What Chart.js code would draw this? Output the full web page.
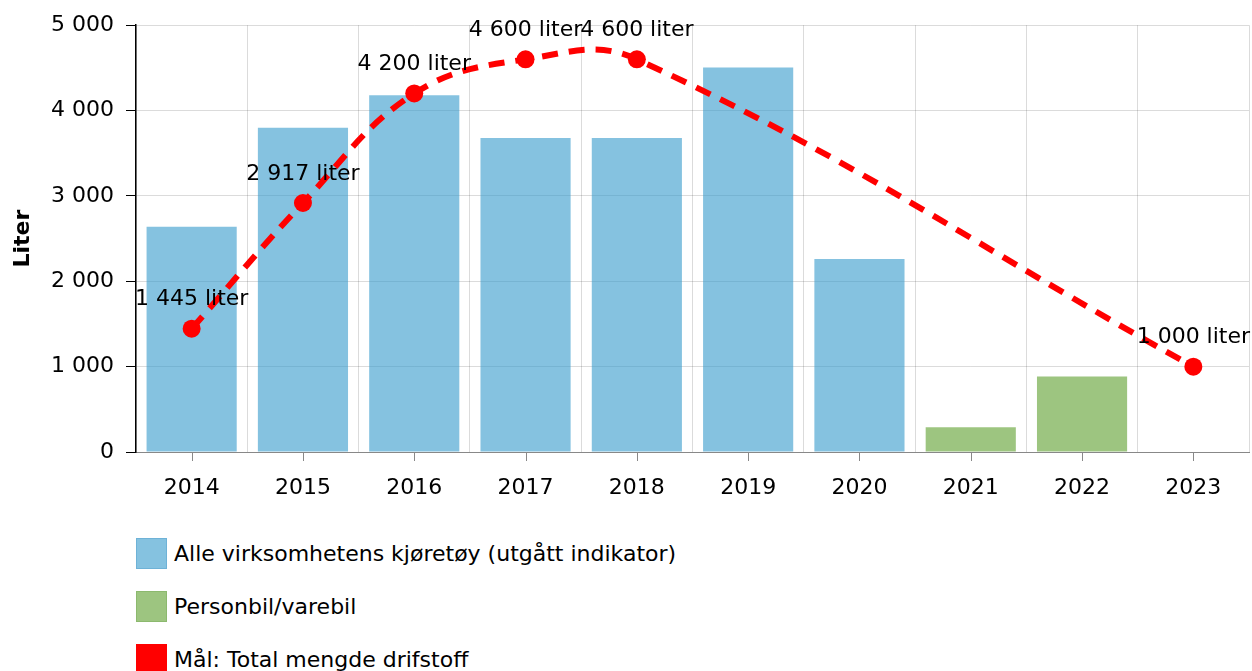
<!DOCTYPE html>
<html>
<head>
<meta charset="utf-8">
<script src="https://cdn.jsdelivr.net/npm/chart.js@4.4.1/dist/chart.umd.min.js"></script>
<style>
    body { margin: 0; background: #fff; font-family: "DejaVu Sans", sans-serif; }
    #wrap { position: relative; width: 1252px; height: 510px; }
    #legend { position: absolute; left: 136px; top: 538px; }
    .item { display: flex; align-items: center; height: 31px; margin-bottom: 22px; font-size: 22px; color: #000; }
    .box { width: 31px; height: 31px; margin-right: 7px; box-sizing: border-box; }
</style>
</head>
<body>
<div id="wrap"><canvas id="chart" width="1252" height="510"></canvas></div>
<div id="legend"></div>
<script>
const years = ['2014', '2015', '2016', '2017', '2018', '2019', '2020', '2021', '2022', '2023'];
const alleKjoretoy = [2640, 3800, 4180, 3680, 3680, 4505, 2260, null, null, null];
const personbil = [null, null, null, null, null, null, null, 290, 885, null];
const maal = [1445, 2917, 4200, 4600, 4600, null, null, null, null, 1000];

const blue = 'rgba(51, 153, 204, 0.6)';
const green = 'rgba(92, 158, 43, 0.6)';
const red = '#ff0000';

function fmt(n) {
    return String(n).replace(/\B(?=(\d{3})+(?!\d))/g, ' ');
}

// tick marks under the category centres, like the original
const xTickMarks = {
    id: 'xTickMarks',
    afterDraw(chart) {
        const ctx = chart.ctx;
        const x = chart.scales.x;
        ctx.save();
        ctx.strokeStyle = '#888';
        ctx.lineWidth = 1;
        years.forEach((y, i) => {
            const px = Math.round(x.getPixelForValue(i)) + 0.5;
            ctx.beginPath();
            ctx.moveTo(px, x.top);
            ctx.lineTo(px, x.top + 9);
            ctx.stroke();
        });
        ctx.restore();
    }
};

const pointLabels = {
    id: 'pointLabels',
    afterDatasetsDraw(chart) {
        const ctx = chart.ctx;
        const meta = chart.getDatasetMeta(0);
        ctx.save();
        ctx.font = '22px "DejaVu Sans"';
        ctx.fillStyle = '#000';
        ctx.textAlign = 'center';
        ctx.textBaseline = 'middle';
        meta.data.forEach((pt, i) => {
            if (maal[i] == null) return;
            ctx.fillText(fmt(maal[i]) + ' liter', pt.x, pt.y - 29);
        });
        ctx.restore();
    }
};

new Chart(document.getElementById('chart'), {
    data: {
        labels: years,
        datasets: [
            {
                type: 'line',
                label: 'Mål: Total mengde drifstoff',
                data: maal,
                borderColor: red,
                backgroundColor: red,
                borderWidth: 6,
                borderDash: [16, 11],
                tension: 0.4,
                spanGaps: true,
                pointRadius: 9,
                pointBorderWidth: 0,
                clip: false,
                order: 0
            },
            {
                type: 'bar',
                label: 'Alle virksomhetens kjøretøy (utgått indikator)',
                data: alleKjoretoy,
                backgroundColor: blue,
                borderWidth: 0,
                grouped: false,
                categoryPercentage: 0.9,
                barPercentage: 0.9,
                order: 1
            },
            {
                type: 'bar',
                label: 'Personbil/varebil',
                data: personbil,
                backgroundColor: green,
                borderWidth: 0,
                grouped: false,
                categoryPercentage: 0.9,
                barPercentage: 0.9,
                order: 1
            }
        ]
    },
    options: {
        responsive: false,
        animation: false,
        layout: { autoPadding: false, padding: { top: 20, right: 3, left: 0, bottom: 0 } },
        plugins: {
            legend: { display: false },
            tooltip: { enabled: false }
        },
        scales: {
            x: {
                grid: { offset: true, color: 'rgba(0,0,0,0.14)', drawTicks: false },
                border: { color: '#888', width: 1 },
                ticks: { color: '#000', font: { family: 'DejaVu Sans', size: 22 }, padding: 23, maxRotation: 0 },
                afterFit(scale) { scale.height = 58; }
            },
            y: {
                min: 0,
                max: 5000,
                ticks: {
                    stepSize: 1000,
                    color: '#000',
                    font: { family: 'DejaVu Sans', size: 22 },
                    padding: 12,
                    callback: v => fmt(v)
                },
                grid: { color: 'rgba(0,0,0,0.14)', tickLength: 10, tickColor: '#000' },
                border: { color: '#000', width: 1.5 },
                title: {
                    display: true,
                    text: 'Liter',
                    color: '#000',
                    font: { family: 'DejaVu Sans', size: 22, weight: 'bold' },
                    padding: { top: 10, bottom: 0 }
                },
                afterFit(scale) { scale.width = 136; }
            }
        }
    },
    plugins: [xTickMarks, pointLabels]
});

const legendItems = [
    { text: 'Alle virksomhetens kjøretøy (utgått indikator)', fill: blue, border: 'rgb(110, 178, 215)' },
    { text: 'Personbil/varebil', fill: green, border: 'rgb(140, 185, 110)' },
    { text: 'Mål: Total mengde drifstoff', fill: red, border: red }
];
const legend = document.getElementById('legend');
legendItems.forEach(it => {
    const row = document.createElement('div');
    row.className = 'item';
    const box = document.createElement('span');
    box.className = 'box';
    box.style.background = it.fill;
    box.style.border = '1px solid ' + it.border;
    row.appendChild(box);
    row.appendChild(document.createTextNode(it.text));
    legend.appendChild(row);
});
</script>
</body>
</html>
